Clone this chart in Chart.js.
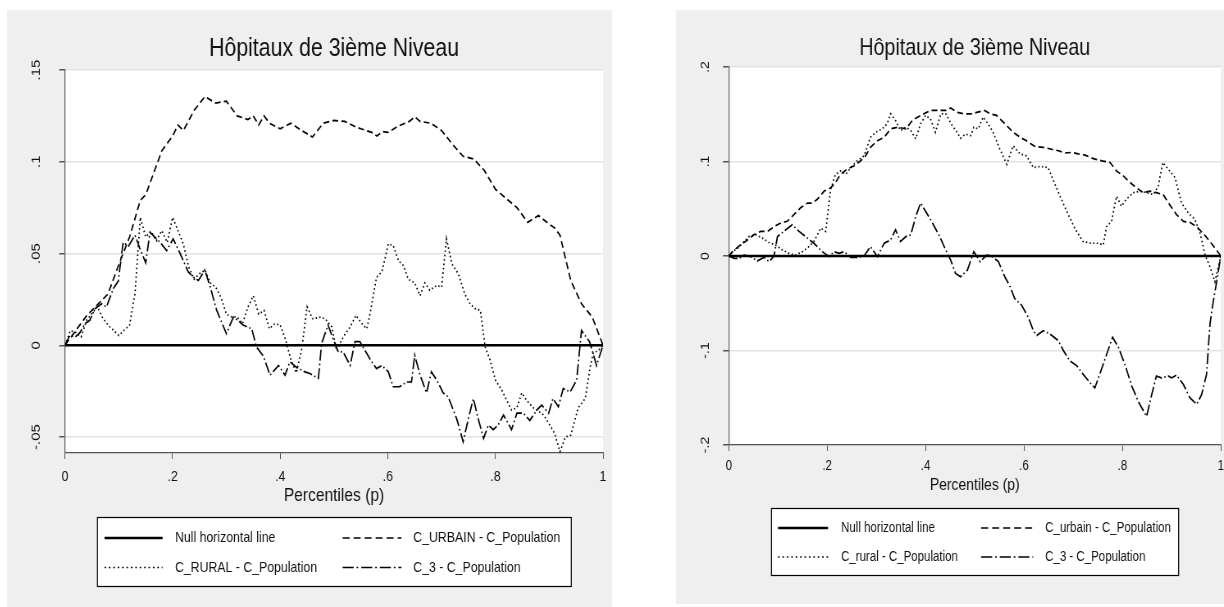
<!DOCTYPE html>
<html>
<head>
<meta charset="utf-8">
<script src="https://cdn.jsdelivr.net/npm/chart.js@4.4.1/dist/chart.umd.min.js"></script>
<style>
  body { margin: 0; background: #fff; width: 1224px; height: 607px; position: relative; overflow: hidden; }
  canvas { position: absolute; transform-origin: 0 0; }
  #chartLeft { left: 7px; top: 10px; }
  #chartRight { left: 676px; top: 10px; }
</style>
</head>
<body>
<canvas id="chartLeft"></canvas>
<canvas id="chartRight"></canvas>
<script>
const titleText = 'Hôpitaux de 3ième Niveau';
const xTitle = 'Percentiles (p)';
const xTicks = [0, 0.2, 0.4, 0.6, 0.8, 1];
const xTickLabels = ['0', '.2', '.4', '.6', '.8', '1'];
const leftYTicks = [-0.05, 0, 0.05, 0.1, 0.15];
const leftYTickLabels = ['-.05', '0', '.05', '.1', '.15'];
const rightYTicks = [-0.2, -0.1, 0, 0.1, 0.2];
const rightYTickLabels = ['-.2', '-.1', '0', '.1', '.2'];
const leftLabels = ['Null horizontal line', 'C_URBAIN - C_Population', 'C_RURAL - C_Population', 'C_3 - C_Population'];
const rightLabels = ['Null horizontal line', 'C_urbain - C_Population', 'C_rural - C_Population', 'C_3 - C_Population'];

const nullLine = [[0, 0], [1, 0]];

// left panel: [p, value]
const leftUrbain = [[0,0],[.02,.008],[.04,.016],[.06,.022],[.08,.028],[.09,.036],[.10,.044],[.12,.059],[.14,.079],[.15,.082],
  [.16,.090],[.18,.106],[.20,.114],[.21,.120],[.22,.117],[.24,.128],[.26,.1355],[.28,.132],[.30,.133],[.32,.125],
  [.34,.123],[.35,.125],[.36,.120],[.37,.125],[.38,.121],[.40,.118],[.42,.121],[.44,.117],[.46,.1135],[.48,.121],
  [.50,.1225],[.52,.122],[.54,.119],[.55,.118],[.56,.117],[.57,.116],[.58,.114],[.59,.1165],[.60,.116],[.62,.1195],
  [.64,.122],[.65,.1245],[.66,.122],[.68,.121],[.70,.117],[.72,.1096],[.74,.103],[.76,.1015],[.78,.095],[.80,.085],
  [.82,.080],[.84,.075],[.86,.067],[.88,.0707],[.90,.066],[.91,.064],[.92,.060],[.94,.0353],[.96,.0226],[.98,.0154],[1,0]];

const leftRural = [[0,0],[.01,.008],[.02,.007],[.03,.0045],[.04,.0136],[.06,.021],[.07,.015],[.08,.011],[.10,.0054],[.12,.011],
  [.13,.028],[.14,.0697],[.15,.059],[.16,.062],[.17,.057],[.18,.0625],[.19,.056],[.20,.0697],[.21,.0625],[.22,.055],
  [.23,.0426],[.24,.036],[.25,.039],[.26,.041],[.27,.034],[.28,.0317],[.29,.026],[.30,.017],[.31,.0154],[.32,.0154],
  [.33,.0118],[.34,.0208],[.35,.027],[.36,.017],[.37,.019],[.38,.009],[.39,.0118],[.40,.011],[.41,.003],[.42,-.008],
  [.43,-.015],[.44,-.002],[.45,.021],[.46,.0145],[.477,.0154],[.486,.0136],[.496,.01],[.505,-.003],[.517,.0045],[.53,.01],
  [.541,.0163],[.551,.012],[.561,.009],[.567,.0172],[.579,.037],[.589,.04],[.601,.0553],[.61,.0543],[.62,.046],[.629,.0435],
  [.638,.036],[.65,.034],[.66,.027],[.669,.034],[.678,.030],[.691,.0326],[.70,.0317],[.709,.058],[.719,.0444],[.731,.039],
  [.743,.028],[.753,.0226],[.762,.020],[.772,.019],[.781,-.001],[.79,-.008],[.80,-.019],[.812,-.0245],[.821,-.030],[.83,-.0353],
  [.84,-.034],[.849,-.026],[.858,-.030],[.87,-.034],[.88,-.036],[.89,-.038],[.90,-.043],[.91,-.048],[.92,-.058],[.93,-.050],
  [.94,-.049],[.954,-.034],[.967,-.029],[.976,-.012],[.982,-.004],[.991,-.003],[1,0]];

const leftC3 = [[0,0],[.009,.0054],[.019,.0045],[.028,.007],[.037,.0118],[.046,.0136],[.056,.020],[.068,.0226],[.077,.0208],[.09,.031],
  [.099,.035],[.108,.056],[.118,.054],[.13,.06],[.139,.053],[.15,.045],[.158,.0616],[.167,.0589],[.177,.056],[.189,.0516],
  [.201,.058],[.214,.05],[.229,.04],[.239,.037],[.248,.0353],[.26,.041],[.27,.0317],[.282,.019],[.30,.0063],[.313,.0154],
  [.325,.0127],[.331,.011],[.347,.009],[.356,-.001],[.369,-.006],[.381,-.0163],[.397,-.011],[.409,-.0163],[.418,-.009],[.43,-.012],
  [.446,-.0145],[.455,-.0154],[.471,-.018],[.477,.001],[.489,.011],[.499,.003],[.508,-.0036],[.517,-.0036],[.53,-.011],[.539,.002],
  [.548,.002],[.561,-.0045],[.57,-.009],[.579,-.0127],[.589,-.011],[.601,-.0145],[.61,-.0226],[.622,-.0226],[.635,-.020],[.644,-.020],
  [.65,-.0054],[.66,-.0163],[.672,-.026],[.681,-.0145],[.691,-.019],[.703,-.026],[.712,-.028],[.728,-.040],[.74,-.0525],[.749,-.041],
  [.759,-.029],[.768,-.040],[.778,-.0507],[.787,-.0435],[.796,-.046],[.805,-.0435],[.815,-.038],[.83,-.046],[.84,-.037],[.852,-.037],
  [.864,-.041],[.877,-.0353],[.886,-.0326],[.899,-.037],[.907,-.029],[.917,-.0335],[.926,-.0236],[.939,-.0254],[.951,-.019],[.96,.008],
  [.975,.002],[.988,-.011],[1,0]];

// right panel: [p, value]
const rightUrbain = [[0,0],[.011,.0064],[.024,.0117],[.038,.017],[.051,.0224],[.065,.026],[.079,.026],[.092,.031],[.106,.035],[.119,.0367],
  [.133,.044],[.146,.051],[.16,.056],[.17,.056],[.18,.06],[.194,.0687],[.207,.072],[.217,.0776],[.227,.0865],[.241,.092],
  [.255,.0954],[.268,.1007],[.278,.106],[.288,.115],[.302,.122],[.316,.1256],[.329,.1345],[.343,.1363],[.36,.1345],[.373,.1434],
  [.39,.1488],[.41,.154],[.427,.154],[.441,.154],[.451,.1566],[.464,.152],[.478,.1505],[.495,.1505],[.504,.152],[.52,.154],
  [.531,.1505],[.544,.1488],[.561,.14],[.578,.131],[.592,.1256],[.605,.122],[.622,.116],[.639,.115],[.656,.113],[.67,.1114],
  [.683,.109],[.697,.1096],[.71,.108],[.724,.1068],[.741,.103],[.758,.1007],[.775,.099],[.788,.090],[.802,.0847],[.815,.078],
  [.829,.072],[.842,.067],[.856,.0687],[.869,.067],[.883,.065],[.896,.0544],[.91,.0438],[.924,.0367],[.937,.0356],[.951,.031],
  [.964,.024],[.978,.0153],[.991,.0064],[1,0]];

const rightRural = [[0,0],[.0074,.0046],[.0176,.008],[.028,.0135],[.041,.0206],[.055,.0224],[.068,.019],[.082,.0142],[.095,.0117],[.109,.0064],
  [.1225,.0028],[.136,.001],[.15,.0046],[.163,.01],[.173,.0153],[.187,.0295],[.197,.026],[.207,.0705],[.217,.0865],[.227,.09],
  [.238,.0865],[.248,.0936],[.261,.1007],[.275,.106],[.288,.1256],[.299,.131],[.312,.1345],[.322,.14],[.329,.1505],[.339,.1434],
  [.349,.1327],[.36,.1363],[.37,.1327],[.38,.124],[.39,.14],[.40,.1488],[.41,.145],[.42,.131],[.431,.1505],[.441,.1505],
  [.454,.138],[.464,.131],[.471,.1245],[.481,.129],[.492,.1274],[.498,.1363],[.507,.1345],[.517,.147],[.527,.14],[.537,.131],
  [.551,.113],[.565,.097],[.578,.1167],[.592,.108],[.605,.106],[.619,.0936],[.632,.0947],[.649,.0936],[.663,.0758],[.676,.06],
  [.69,.0438],[.703,.0295],[.72,.0153],[.737,.0135],[.751,.0135],[.761,.0117],[.768,.0313],[.778,.0367],[.788,.0633],[.798,.0527],
  [.808,.06],[.822,.067],[.836,.0687],[.849,.067],[.863,.065],[.873,.074],[.882,.099],[.893,.092],[.907,.083],[.92,.0562],
  [.934,.0455],[.947,.039],[.958,.024],[.968,.001],[.978,-.0114],[.988,-.0274],[.995,-.0114],[1,0]];

const rightC3 = [[0,0],[.011,-.0025],[.021,-.0025],[.031,.001],[.045,-.0007],[.058,-.0053],[.072,-.0014],[.082,-.006],[.092,0],[.099,.0206],
  [.116,.0278],[.129,.033],[.143,.026],[.156,.0206],[.173,.0135],[.19,.0046],[.204,-.0007],[.214,.0046],[.224,.0028],[.234,.0046],
  [.248,-.0014],[.261,-.0014],[.275,0],[.288,.01],[.302,-.0007],[.316,.0135],[.329,.017],[.339,.0278],[.349,.0153],[.36,.0206],
  [.37,.0224],[.38,.042],[.39,.0562],[.40,.0473],[.414,.035],[.427,.0224],[.441,.0064],[.451,-.0043],[.461,-.0185],[.471,-.022],
  [.485,-.015],[.498,.0046],[.511,-.006],[.524,.001],[.534,0],[.548,-.006],[.561,-.022],[.572,-.0327],[.581,-.045],[.595,-.052],
  [.609,-.065],[.619,-.079],[.626,-.084],[.639,-.079],[.653,-.0826],[.67,-.0897],[.68,-.1],[.693,-.111],[.707,-.116],[.72,-.125],
  [.734,-.134],[.744,-.1395],[.754,-.125],[.768,-.104],[.78,-.086],[.792,-.0968],[.805,-.1146],[.819,-.1377],[.832,-.1537],[.849,-.1698],
  [.859,-.148],[.869,-.127],[.879,-.129],[.893,-.127],[.90,-.129],[.91,-.126],[.924,-.136],[.937,-.150],[.951,-.157],[.961,-.1466],
  [.971,-.1253],[.978,-.072],[.985,-.047],[.991,-.029],[1,0]];

const fontFamily = "'Liberation Sans', Arial, sans-serif";
Chart.defaults.font.family = fontFamily;
Chart.defaults.color = '#111';

// the original uses a condensed face; draw wide and squeeze the canvas horizontally
const squeeze = 0.82;

// grey graph region, white plot region, and the boxed 2x2 legend
const panelPlugin = {
  id: 'panel',
  beforeDraw(chart) {
    const { ctx, chartArea: a } = chart;
    ctx.save();
    ctx.fillStyle = '#efefef';
    ctx.fillRect(0, 0, chart.width, chart.height);
    ctx.fillStyle = '#ffffff';
    ctx.fillRect(a.left, a.top, a.right - a.left, a.bottom - a.top);
    ctx.restore();
  },
  afterDraw(chart, args, opts) {
    const { ctx } = chart;
    const k = 1 / squeeze;
    const b = opts.box;
    ctx.save();
    ctx.fillStyle = '#ffffff';
    ctx.fillRect(b[0] * k, b[1], b[2] * k, b[3]);
    ctx.strokeStyle = '#000';
    ctx.lineWidth = 1.2;
    ctx.strokeRect(b[0] * k + 0.5, b[1] + 0.5, b[2] * k, b[3]);
    ctx.font = opts.font;
    ctx.textBaseline = 'middle';
    chart.data.datasets.forEach((ds, i) => {
      const col = opts.cols[i % 2];
      const y = opts.rows[Math.floor(i / 2)];
      ctx.beginPath();
      ctx.setLineDash((ds.borderDash || []).map((d) => d * k));
      ctx.lineWidth = ds.borderWidth;
      ctx.strokeStyle = '#000';
      ctx.moveTo(col[0] * k, y);
      ctx.lineTo(col[1] * k, y);
      ctx.stroke();
      ctx.setLineDash([]);
      ctx.fillStyle = '#111';
      ctx.fillText(ds.label, col[2] * k, y);
    });
    ctx.restore();
  }
};

function toPoints(arr) {
  return arr.map(([x, y]) => ({ x, y }));
}

function makeChart(id, g) {
  const k = 1 / squeeze;
  const canvas = document.getElementById(id);
  canvas.width = Math.round(g.width * k);
  canvas.height = g.height;
  canvas.style.transform = 'scaleX(' + (g.width / canvas.width) + ')';

  const series = [nullLine, g.urbain, g.rural, g.c3];
  const dashes = [[], [7, 4], [1.6, 2.8], [11, 3, 1.6, 3]];
  const widths = [2.4, 1.7, 1.7, 1.7];

  const datasets = series.map((s, i) => ({
    label: g.labels[i],
    data: toPoints(s),
    borderColor: '#000',
    borderWidth: widths[i],
    borderDash: dashes[i],
    pointRadius: 0,
    fill: false,
    tension: 0,
  }));

  return new Chart(canvas, {
    type: 'line',
    data: { datasets },
    plugins: [panelPlugin],
    options: {
      responsive: false,
      animation: false,
      devicePixelRatio: 1,
      layout: { padding: { top: 10, left: 0, right: g.padRight * k, bottom: g.padBottom } },
      plugins: {
        legend: { display: false },
        tooltip: { enabled: false },
        title: {
          display: true,
          text: titleText,
          fullSize: false,
          color: '#111',
          font: { size: g.titleSize, weight: 'normal' },
          padding: { top: g.titleTop, bottom: g.titleBottom },
        },
        panel: g.legend,
      },
      scales: {
        x: {
          type: 'linear',
          min: 0,
          max: 1,
          afterBuildTicks: (s) => { s.ticks = xTicks.map((v) => ({ value: v })); },
          afterFit: (s) => { s.height = g.xAxisHeight; },
          ticks: {
            callback: (v) => xTickLabels[xTicks.indexOf(v)],
            // tall line box pushes the labels down without widening the side padding
            font: { size: g.tickSize, lineHeight: g.xTickLineHeight },
            padding: 0,
            maxRotation: 0,
            autoSkip: false,
          },
          grid: { drawOnChartArea: false, tickLength: 6, tickColor: '#555' },
          border: { color: '#555', width: 1.2 },
          title: { display: true, text: xTitle, font: { size: g.xTitleSize }, padding: 0 },
        },
        y: {
          type: 'linear',
          min: g.yMin,
          max: g.yMax,
          afterBuildTicks: (s) => { s.ticks = g.yTicks.map((v) => ({ value: v })); },
          afterFit: (s) => { s.width = g.yAxisWidth * k; },
          ticks: {
            callback: (v) => g.yTickLabels[g.yTicks.indexOf(v)],
            font: { size: g.tickSize },
            minRotation: 90,
            maxRotation: 90,
            crossAlign: 'center',
            padding: g.yTickPad * k,
            autoSkip: false,
          },
          grid: { color: '#e3e3e3', lineWidth: 1.5, tickLength: 7, tickColor: '#555' },
          border: { color: '#666', width: 1.3 },
        },
      },
    },
  });
}

makeChart('chartLeft', {
  width: 605, height: 597,
  urbain: leftUrbain, rural: leftRural, c3: leftC3, labels: leftLabels,
  yMin: -0.0587, yMax: 0.15, yTicks: leftYTicks, yTickLabels: leftYTickLabels,
  padRight: 9, padBottom: 100, titleSize: 26, titleTop: 13.4, titleBottom: 5.4,
  xAxisHeight: 54, yAxisWidth: 58, tickSize: 15, xTickLineHeight: 2.4, yTickPad: 12, xTitleSize: 19,
  legend: {
    box: [90, 507, 474, 69], rows: [528, 557.5],
    cols: [[97.5, 155.6, 168], [335.7, 394.5, 406.4]],
    font: '15px ' + fontFamily,
  },
});

makeChart('chartRight', {
  width: 548, height: 594,
  urbain: rightUrbain, rural: rightRural, c3: rightC3, labels: rightLabels,
  yMin: -0.2, yMax: 0.2, yTicks: rightYTicks, yTickLabels: rightYTickLabels,
  padRight: 3, padBottom: 108, titleSize: 24, titleTop: 13.6, titleBottom: 4.6,
  xAxisHeight: 51, yAxisWidth: 52.7, tickSize: 14, xTickLineHeight: 2.14, yTickPad: 11, xTitleSize: 17,
  legend: {
    box: [95, 498, 407, 67], rows: [518, 547],
    cols: [[102, 152, 165], [305, 357, 369]],
    font: '14px ' + fontFamily,
  },
});
</script>
</body>
</html>
